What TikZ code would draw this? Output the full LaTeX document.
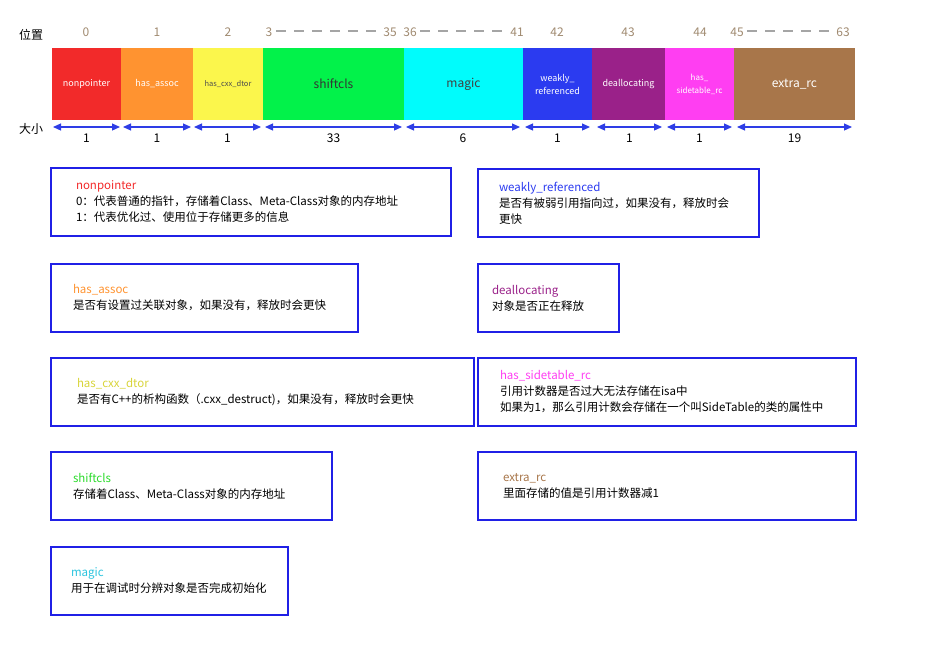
\documentclass[tikz,border=0pt]{standalone}
\usepackage{fontspec}
\setmainfont{Noto Sans CJK SC}
\usetikzlibrary{arrows.meta,positioning}

\definecolor{bitred}{HTML}{F22A2A}
\definecolor{bitorange}{HTML}{FF9330}
\definecolor{bityellow}{HTML}{FBF64C}
\definecolor{bitgreen}{HTML}{02F24A}
\definecolor{bitcyan}{HTML}{00FCFC}
\definecolor{bitblue}{HTML}{2B3BF0}
\definecolor{bitpurple}{HTML}{9A2189}
\definecolor{bitpink}{HTML}{FF3EF2}
\definecolor{bitbrown}{HTML}{A8764A}
\definecolor{numbrown}{HTML}{A08A70}
\definecolor{dashgrey}{HTML}{A5A5A5}
\definecolor{arrowblue}{HTML}{2E3EE6}
\definecolor{boxblue}{HTML}{2020E6}
\definecolor{titleyellow}{HTML}{D8D43A}
\definecolor{titlegreen}{HTML}{2ADB2A}
\definecolor{titlecyan}{HTML}{2BC4DE}

\tikzset{
  field/.style={minimum height=72pt, inner sep=0pt, outer sep=0pt, align=center},
  bitnum/.style={text=numbrown, font=\fontsize{12}{14}\selectfont},
  sizenum/.style={font=\fontsize{12}{14}\selectfont},
  gapdash/.style={draw=dashgrey, line width=2.5pt, dash pattern=on 10pt off 8pt},
  sizearrow/.style={draw=arrowblue, line width=1.2pt,
    {Triangle[length=8pt,width=7pt]}-{Triangle[length=8pt,width=7pt]}},
  infobox/.style={draw=boxblue, line width=2pt, anchor=north west,
    minimum height=68pt, inner xsep=22pt, align=left,
    font=\fontsize{11.5}{16}\selectfont},
}

\begin{document}
\begin{tikzpicture}[x=1pt,y=-1pt]
  \useasboundingbox (0,0) rectangle (925,654);

  % row captions
  \node[font=\fontsize{12}{14}\selectfont] (pos) at (31,35) {位置};
  \node[font=\fontsize{12}{14}\selectfont] (len) at (31,129) {大小};

  % the isa bit fields
  \node[field, anchor=north west, fill=bitred, minimum width=69pt, text=white, font=\fontsize{9}{11}\selectfont] (np) at (52,48) {nonpointer};
  \node[field, right=0pt of np, fill=bitorange, minimum width=72pt, text=white, font=\fontsize{9}{11}\selectfont] (as) {has\_assoc};
  \node[field, right=0pt of as, fill=bityellow, minimum width=70pt, text=black!70, font=\fontsize{7.5}{9}\selectfont] (cx) {has\_cxx\_dtor};
  \node[field, right=0pt of cx, fill=bitgreen, minimum width=141pt, text=black!80, font=\fontsize{12}{14}\selectfont] (sc) {shiftcls};
  \node[field, right=0pt of sc, fill=bitcyan, minimum width=119pt, text=black!75, font=\fontsize{12}{14}\selectfont] (mg) {magic};
  \node[field, right=0pt of mg, fill=bitblue, minimum width=69pt, text=white, font=\fontsize{9}{13}\selectfont] (wr) {weakly\_\\referenced};
  \node[field, right=0pt of wr, fill=bitpurple, minimum width=73pt, text=white, font=\fontsize{9}{11}\selectfont] (da) {deallocating};
  \node[field, right=0pt of da, fill=bitpink, minimum width=69pt, text=white, font=\fontsize{8}{13}\selectfont] (sr) {has\_\\sidetable\_rc};
  \node[field, right=0pt of sr, fill=bitbrown, minimum width=121pt, text=white, font=\fontsize{12}{14}\selectfont] (ex) {extra\_rc};

  % bit positions
  \node[bitnum] (p0) at (86,32) {0};
  \node[bitnum] (p1) at (157,32) {1};
  \node[bitnum] (p2) at (228,32) {2};
  \node[bitnum] (p3) at (269,32) {3};
  \node[bitnum] (p35) at (390,32) {35};
  \node[bitnum] (p36) at (410,32) {36};
  \node[bitnum] (p41) at (517,32) {41};
  \node[bitnum] (p42) at (557,32) {42};
  \node[bitnum] (p43) at (628,32) {43};
  \node[bitnum] (p44) at (700,32) {44};
  \node[bitnum] (p45) at (737,32) {45};
  \node[bitnum] (p63) at (843,32) {63};
  \draw[gapdash] ([yshift=1pt]p3.east) -- ([yshift=1pt]p35.west);
  \draw[gapdash] ([yshift=1pt]p36.east) -- ([yshift=1pt]p41.west);
  \draw[gapdash] ([yshift=1pt]p45.east) -- ([yshift=1pt]p63.west);

  % sizes
  \draw[sizearrow] ([shift={(1,7)}]np.south west) -- ([shift={(-1,7)}]np.south east) node[sizenum, midway, below=3pt] (s0) {1};
  \draw[sizearrow] ([shift={(2,7)}]as.south west) -- ([shift={(-2,7)}]as.south east) node[sizenum, midway, below=3pt] (s1) {1};
  \draw[sizearrow] ([shift={(1,7)}]cx.south west) -- ([shift={(-2,7)}]cx.south east) node[sizenum, midway, below=3pt] (s2) {1};
  \draw[sizearrow] ([shift={(2,7)}]sc.south west) -- ([shift={(-2,7)}]sc.south east) node[sizenum, midway, below=3pt] (s3) {33};
  \draw[sizearrow] ([shift={(2,7)}]mg.south west) -- ([shift={(-3,7)}]mg.south east) node[sizenum, midway, below=3pt] (s4) {6};
  \draw[sizearrow] ([shift={(2,7)}]wr.south west) -- ([shift={(-2,7)}]wr.south east) node[sizenum, midway, below=3pt] (s5) {1};
  \draw[sizearrow] ([shift={(5,7)}]da.south west) -- ([shift={(-3,7)}]da.south east) node[sizenum, midway, below=3pt] (s6) {1};
  \draw[sizearrow] ([shift={(2,7)}]sr.south west) -- ([shift={(-2,7)}]sr.south east) node[sizenum, midway, below=3pt] (s7) {1};
  \draw[sizearrow] ([shift={(3,7)}]ex.south west) -- ([shift={(-3,7)}]ex.south east) node[sizenum, midway, below=3pt] (s8) {19};

  % explanations
  \node[infobox, inner xsep=25pt, text width=350pt] (dnp) at (50,167)
    {\textcolor{bitred}{nonpointer}\\0：代表普通的指针，存储着Class、Meta-Class对象的内存地址\\1：代表优化过、使用位于存储更多的信息};
  \node[infobox, inner xsep=21pt, text width=239pt] (dwr) at (477,168)
    {\textcolor{bitblue}{weakly\_referenced}\\是否有被弱引用指向过，如果没有，释放时会\\更快};
  \node[infobox, text width=263pt] (das) at (50,263)
    {\textcolor{bitorange}{has\_assoc}\\是否有设置过关联对象，如果没有，释放时会更快};
  \node[infobox, inner xsep=14pt, text width=113pt] (dda) at (477,263)
    {\textcolor{bitpurple}{deallocating}\\对象是否正在释放};
  \node[infobox, inner xsep=26pt, text width=371pt] (dcx) at (50,357)
    {\textcolor{titleyellow}{has\_cxx\_dtor}\\是否有C++的析构函数（.cxx\_destruct)，如果没有，释放时会更快};
  \node[infobox, text width=334pt] (dsr) at (477,357)
    {\textcolor{bitpink}{has\_sidetable\_rc}\\引用计数器是否过大无法存储在isa中\\如果为1，那么引用计数会存储在一个叫SideTable的类的属性中};
  \node[infobox, text width=237pt] (dsc) at (50,451)
    {\textcolor{titlegreen}{shiftcls}\\存储着Class、Meta-Class对象的内存地址};
  \node[infobox, inner xsep=25pt, text width=328pt] (dex) at (477,451)
    {\textcolor{bitbrown}{extra\_rc}\\里面存储的值是引用计数器减1};
  \node[infobox, inner xsep=20pt, text width=197pt] (dmg) at (50,546)
    {\textcolor{titlecyan}{magic}\\用于在调试时分辨对象是否完成初始化};
\end{tikzpicture}
\end{document}
